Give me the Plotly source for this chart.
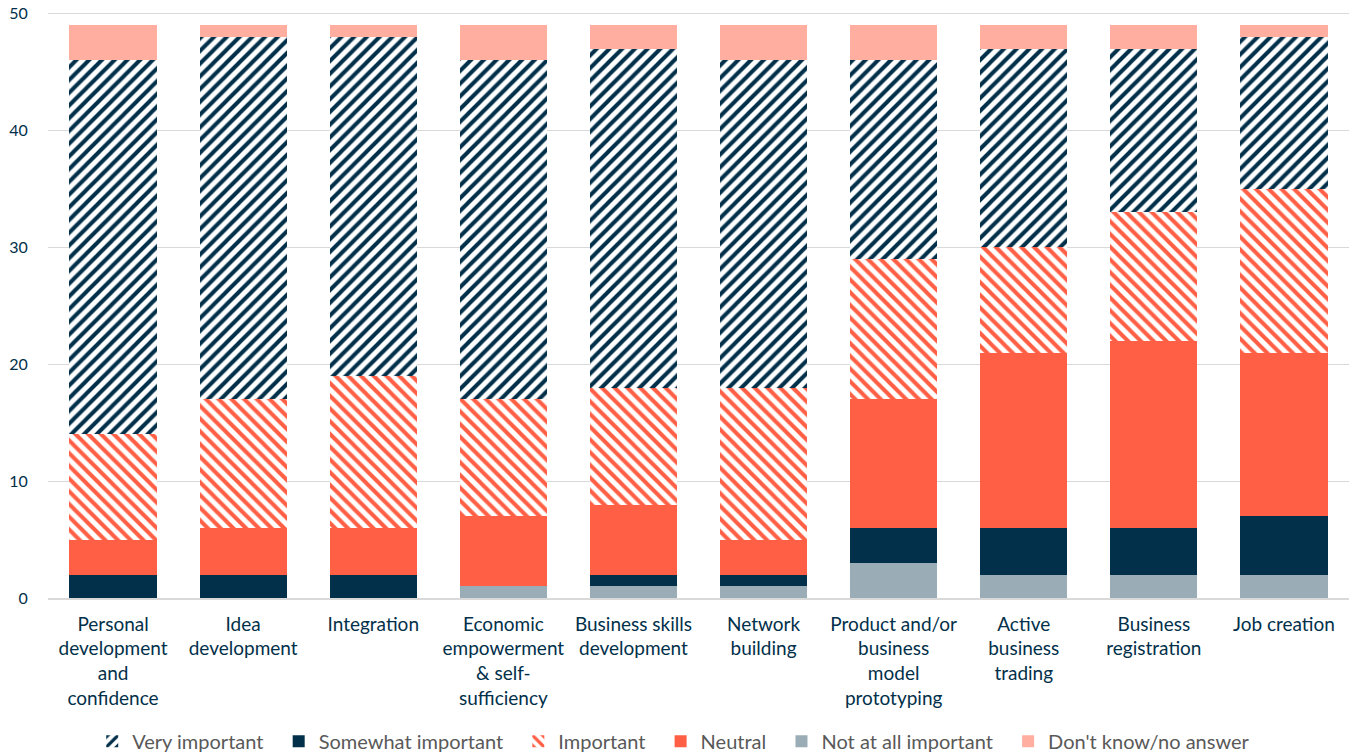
import plotly.graph_objects as go

categories = [
    "Personal<br>development<br>and<br>confidence",
    "Idea<br>development",
    "Integration",
    "Economic<br>empowerment<br>& self-<br>sufficiency",
    "Business skills<br>development",
    "Network<br>building",
    "Product and/or<br>business<br>model<br>prototyping",
    "Active<br>business<br>trading",
    "Business<br>registration",
    "Job creation",
]

not_at_all = [0, 0, 0, 1, 1, 1, 3, 2, 2, 2]
somewhat = [2, 2, 2, 0, 1, 1, 3, 4, 4, 5]
neutral = [3, 4, 4, 6, 6, 3, 11, 15, 16, 14]
important = [9, 11, 13, 10, 10, 13, 12, 9, 11, 14]
very_important = [32, 31, 29, 29, 29, 28, 17, 17, 14, 13]
dont_know = [3, 1, 1, 3, 2, 3, 3, 2, 2, 1]

NAVY = "#02304A"
CORAL = "#FF5F45"
GREY = "#9AACB5"
PINK = "#FFAEA0"
FONT = "Lato, Noto Sans, sans-serif"
PAD = "\u00a0\u00a0"  # a little extra room between legend entries

# stacking order bottom -> top, with legend rank
series = [
    ("Not at all important" + PAD, not_at_all, GREY, None, 5),
    ("Somewhat important" + PAD, somewhat, NAVY, None, 2),
    ("Neutral" + PAD, neutral, CORAL, None, 4),
    ("Important" + PAD, important, CORAL, "\\", 3),
    ("Very important" + PAD, very_important, NAVY, "/", 1),
    ("Don't know/no answer", dont_know, PINK, None, 6),
]

fig = go.Figure()
for name, vals, color, shape, rank in series:
    if shape:
        marker = dict(
            color="white",
            line=dict(width=0),
            pattern=dict(shape=shape, fgcolor=color, bgcolor="white",
                         size=9, solidity=0.45, fillmode="replace"),
        )
    else:
        marker = dict(color=color, line=dict(width=0))
    fig.add_trace(go.Bar(x=categories, y=vals, name=name, marker=marker,
                         legendrank=rank))

fig.update_layout(
    barmode="stack",
    bargap=0.33,
    width=1352,
    height=754,
    paper_bgcolor="white",
    plot_bgcolor="white",
    font=dict(family=FONT, color=NAVY),
    margin=dict(l=48, r=3, t=12, b=156),
    xaxis=dict(
        automargin=False,
        tickfont=dict(size=19, color=NAVY),
        showgrid=False,
        showline=True,
        linecolor="#D9D9D9",
        linewidth=1.5,
        ticks="outside",
        ticklen=8,
        tickcolor="rgba(0,0,0,0)",
    ),
    yaxis=dict(
        automargin=False,
        range=[0, 50.15],
        tickvals=[0, 10, 20, 30, 40, 50],
        tickfont=dict(size=16, color=NAVY),
        gridcolor="#D9D9D9",
        gridwidth=1,
        zeroline=False,
        ticks="outside",
        ticklen=16,
        tickcolor="rgba(0,0,0,0)",
    ),
    legend=dict(
        orientation="h",
        x=0.034,
        xanchor="left",
        yref="container",
        y=0.017,
        yanchor="middle",
        font=dict(size=20, color="#595959"),
        itemwidth=30,
        traceorder="normal",
    ),
    showlegend=True,
)

# drop the default page margin so the 1352x754 figure fills the window
fig.write_html(
    "out.html",
    config={"displayModeBar": False},
    post_script="document.body.style.margin = '0';",
)
